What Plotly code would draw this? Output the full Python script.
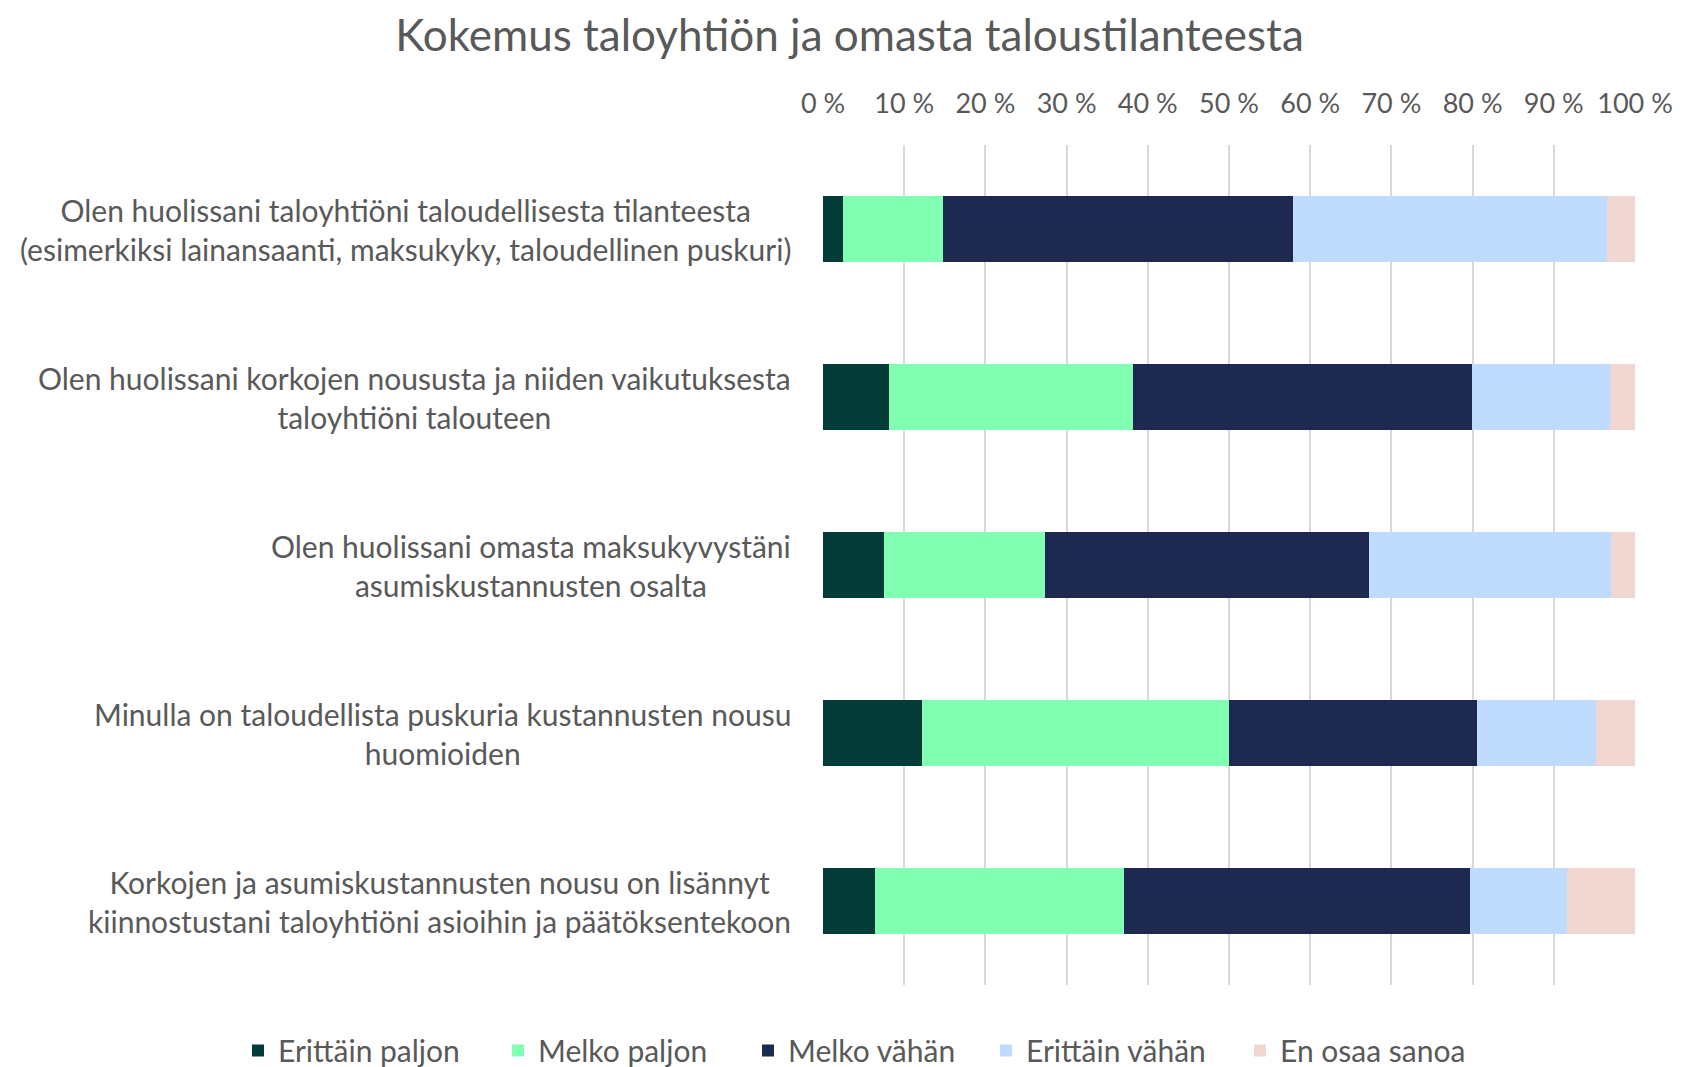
import plotly.graph_objects as go

# survey statements (top to bottom)
statements = [
    "Olen huolissani taloyhtiöni taloudellisesta tilanteesta<br>(esimerkiksi lainansaanti, maksukyky, taloudellinen puskuri)",
    "Olen huolissani korkojen noususta ja niiden vaikutuksesta<br>taloyhtiöni talouteen",
    "Olen huolissani omasta maksukyvystäni<br>asumiskustannusten osalta",
    "Minulla on taloudellista puskuria kustannusten nousu<br>huomioiden",
    "Korkojen ja asumiskustannusten nousu on lisännyt<br>kiinnostustani taloyhtiöni asioihin ja päätöksentekoon",
]

# shares in percent
erittain_paljon = [2.5, 8.1, 7.5, 12.2, 6.4]
melko_paljon = [12.3, 30.1, 19.9, 37.8, 30.7]
melko_vahan = [43.1, 41.7, 39.9, 30.5, 42.6]
erittain_vahan = [38.6, 17.0, 29.8, 14.7, 11.9]
en_osaa_sanoa = [3.5, 3.1, 2.9, 4.8, 8.4]

series = [
    ("Erittäin paljon", erittain_paljon, "#023B38"),
    ("Melko paljon", melko_paljon, "#80FFB3"),
    ("Melko vähän", melko_vahan, "#1E2952"),
    ("Erittäin vähän", erittain_vahan, "#BFDBFD"),
    ("En osaa sanoa", en_osaa_sanoa, "#F1D6D1"),
]

# left edge of each legend entry, px from the left of the figure
legend_x = [230, 490, 740, 978, 1232]

text_col = "#595959"
font_name = "Lato"
W, H = 1700, 1067

fig = go.Figure()
legend_layout = {}
for i, (name, vals, col) in enumerate(series):
    key = "legend" if i == 0 else f"legend{i + 1}"
    fig.add_trace(go.Bar(
        y=statements, x=vals, name=name, orientation="h",
        marker=dict(color=col, line=dict(width=0)),
        hoverinfo="x+name", legend=key, showlegend=True,
    ))
    legend_layout[key] = dict(
        orientation="h", x=legend_x[i] / W, xanchor="left",
        y=0.023, yanchor="middle", xref="container", yref="container",
        itemwidth=30, bgcolor="rgba(0,0,0,0)", visible=True,
        font=dict(family=font_name, size=30, color=text_col),
    )

# y labels as centred annotations to the left of the plot
for s in statements:
    fig.add_annotation(
        x=0, xref="paper", y=s, yref="y",
        text=s, showarrow=False, xanchor="right", yanchor="middle",
        align="center", xshift=-30,
        font=dict(family=font_name, size=30, color=text_col),
    )

fig.update_layout(
    width=W, height=H,
    template="none", showlegend=True,
    paper_bgcolor="white", plot_bgcolor="white",
    barmode="stack", bargap=0.61,
    margin=dict(l=815, r=73, t=137, b=90, autoexpand=False),
    font=dict(family=font_name, color=text_col),
    title=dict(
        text="Kokemus taloyhtiön ja omasta taloustilanteesta",
        x=0.495, xanchor="center", y=0.974, yanchor="middle", yref="container",
        font=dict(family=font_name, size=44, color=text_col),
    ),
    xaxis=dict(
        side="top", range=[0, 100], dtick=10, ticksuffix=" %",
        showgrid=True, gridcolor="#D9D9D9", gridwidth=2,
        zeroline=False, showline=False, ticks="",
        ticklabelstandoff=26,
        tickfont=dict(family=font_name, size=27, color=text_col),
    ),
    yaxis=dict(
        autorange="reversed", showticklabels=False, showgrid=False,
        zeroline=False, showline=False, ticks="",
    ),
    **legend_layout,
)

fig.write_html("out.html")
